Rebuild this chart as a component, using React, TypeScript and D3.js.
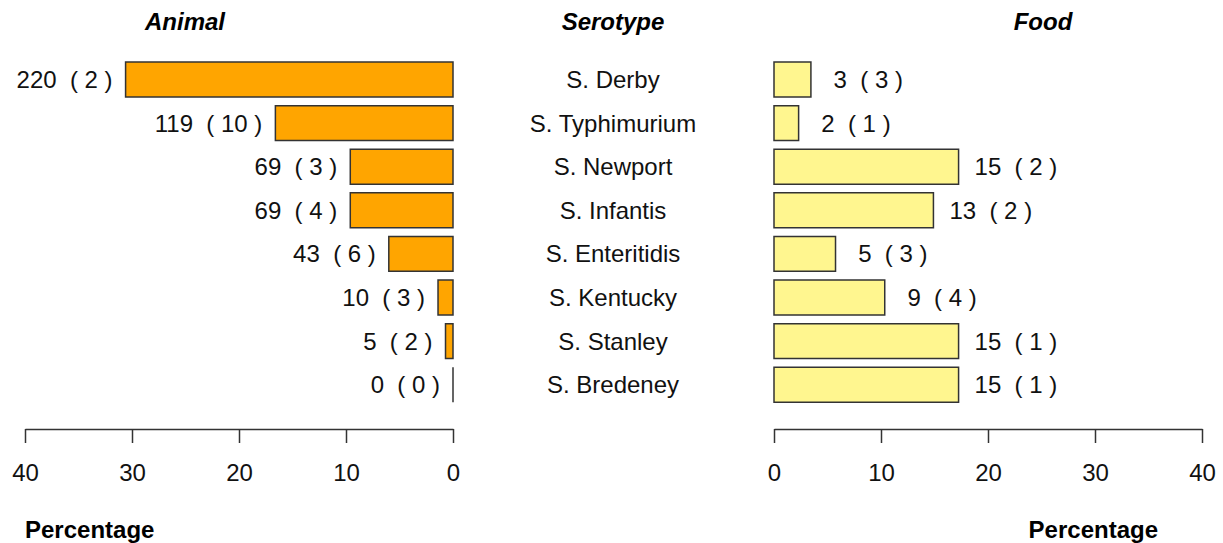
import { useEffect, useRef } from "react";
import { select, scaleLinear, scaleBand, axisBottom } from "d3";

const serotypes = [
  "S. Derby",
  "S. Typhimurium",
  "S. Newport",
  "S. Infantis",
  "S. Enteritidis",
  "S. Kentucky",
  "S. Stanley",
  "S. Bredeney",
];
// percentage of isolates per source
const animalPct = [30.6, 16.6, 9.6, 9.6, 6.0, 1.4, 0.7, 0];
const foodPct = [3.45, 2.3, 17.25, 14.9, 5.75, 10.35, 17.25, 17.25];
// counts and (number in brackets) shown beside bars
const animalN = [220, 119, 69, 69, 43, 10, 5, 0];
const animalK = [2, 10, 3, 4, 6, 3, 2, 0];
const foodN = [3, 2, 15, 13, 5, 9, 15, 15];
const foodK = [3, 1, 2, 2, 3, 4, 1, 1];
const ticks = [0, 10, 20, 30, 40];

const FONT = "Liberation Sans, Arial, sans-serif";
const FS = 24;

function App() {
  const width = 1223;
  const height = 543;
  const svgRef = useRef(null);

  useEffect(() => {
    document.body.style.margin = "0";
    const svg = select(svgRef.current);
    svg.selectAll("*").remove();

    const xLeft = scaleLinear().domain([0, 40]).range([453, 25]);
    const xRight = scaleLinear().domain([0, 40]).range([774, 1202]);
    const yScale = scaleBand()
      .domain(serotypes)
      .range([57.7, 406.5])
      .paddingInner(0.2)
      .paddingOuter(0.1);
    const bw = yScale.bandwidth();

    const barPath = (x0, x1, y) =>
      `M${x0},${y}H${x1}V${y + bw}H${x0}Z`;

    // animal bars
    svg
      .append("g")
      .selectAll("path")
      .data(animalPct)
      .join("path")
      .attr("d", (d, i) => barPath(xLeft(d), xLeft(0), yScale(serotypes[i])))
      .attr("fill", "#FFA500")
      .attr("stroke", "#333")
      .attr("stroke-width", 1.5);

    // food bars
    svg
      .append("g")
      .selectAll("path")
      .data(foodPct)
      .join("path")
      .attr("d", (d, i) => barPath(xRight(0), xRight(d), yScale(serotypes[i])))
      .attr("fill", "#FFF68F")
      .attr("stroke", "#333")
      .attr("stroke-width", 1.5);

    const textStyle = (sel) =>
      sel
        .attr("font-family", FONT)
        .attr("font-size", FS)
        .attr("fill", "#111")
        .style("white-space", "pre");

    svg
      .append("g")
      .selectAll("text")
      .data(animalPct)
      .join("text")
      .call(textStyle)
      .attr("x", (d) => xLeft(d) - 13)
      .attr("y", (d, i) => yScale(serotypes[i]) + bw / 2)
      .attr("dy", "0.35em")
      .attr("text-anchor", "end")
      .text((d, i) => `${animalN[i]}  ( ${animalK[i]} )`);

    svg
      .append("g")
      .selectAll("text")
      .data(foodPct)
      .join("text")
      .call(textStyle)
      .attr("x", (d) => xRight(d) + 16)
      .attr("y", (d, i) => yScale(serotypes[i]) + bw / 2)
      .attr("dy", "0.35em")
      .attr("text-anchor", "start")
      .text((d, i) => `${String(foodN[i]).padStart(2, " ")}  ( ${foodK[i]} )`);

    // serotype names
    svg
      .append("g")
      .selectAll("text")
      .data(serotypes)
      .join("text")
      .call(textStyle)
      .attr("x", 613)
      .attr("y", (d) => yScale(d) + bw / 2)
      .attr("dy", "0.35em")
      .attr("text-anchor", "middle")
      .text((d) => d);

    // axes
    const drawAxis = (scale) => {
      const g = svg
        .append("g")
        .attr("transform", "translate(0,429)")
        .call(axisBottom(scale).tickValues(ticks).tickSize(14).tickPadding(21).tickSizeOuter(0));
      g.select(".domain").attr("stroke", "#333").attr("stroke-width", 1.5);
      g.selectAll(".tick line").attr("stroke", "#333").attr("stroke-width", 1.5);
      g.selectAll(".tick text")
        .attr("font-family", FONT)
        .attr("font-size", FS)
        .attr("fill", "#111");
    };
    drawAxis(xLeft);
    drawAxis(xRight);

    // titles
    const titles = [
      { t: "Animal", x: 185 },
      { t: "Serotype", x: 613 },
      { t: "Food", x: 1043 },
    ];
    svg
      .append("g")
      .selectAll("text")
      .data(titles)
      .join("text")
      .attr("font-family", FONT)
      .attr("font-size", FS)
      .attr("font-weight", "bold")
      .attr("font-style", "italic")
      .attr("text-anchor", "middle")
      .attr("x", (d) => d.x)
      .attr("y", 30)
      .text((d) => d.t);

    svg
      .append("text")
      .attr("font-family", FONT)
      .attr("font-size", FS)
      .attr("font-weight", "bold")
      .attr("x", 25)
      .attr("y", 538)
      .text("Percentage");
    svg
      .append("text")
      .attr("font-family", FONT)
      .attr("font-size", FS)
      .attr("font-weight", "bold")
      .attr("text-anchor", "end")
      .attr("x", 1158)
      .attr("y", 538)
      .text("Percentage");
  }, []);

  return (
    <svg
      ref={svgRef}
      width={width}
      height={height}
      style={{ display: "block", background: "#fff" }}
    />
  );
}

export default App;
